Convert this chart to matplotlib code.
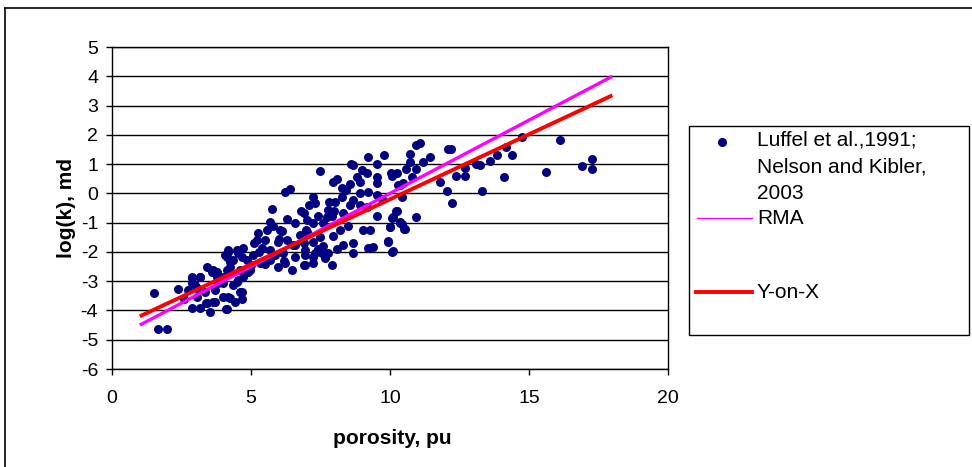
import matplotlib
matplotlib.use("Agg")
import matplotlib.pyplot as plt
from matplotlib.lines import Line2D
from matplotlib.patches import Rectangle

# ---------------- data ----------------
porosity = [
    1.5, 1.65, 1.98, 2.37, 2.88, 2.88, 3.17, 3.53, 3.42, 4.1, 4.17, 4.68, 4.68, 4.5,
    3.42, 3.77, 2.98, 3.05, 3.63, 4.0, 3.17, 2.88, 2.88, 3.17, 3.6, 3.06, 3.35, 3.7,
    3.38, 3.7, 4.14, 4.24, 4.42, 3.81, 3.96, 4.14, 4.06, 4.17, 4.35, 4.53, 4.24, 4.6,
    2.6, 2.75,
    6.22, 6.4, 5.76, 6.3, 5.68, 5.58, 6.04, 5.25, 5.22, 5.5, 5.97, 6.3, 6.76, 7.01,
    6.51, 6.94, 6.58, 6.94, 6.47, 6.22, 5.97, 5.68, 5.32, 4.86, 4.96, 4.6, 4.24, 4.14,
    4.17, 4.5, 4.71, 4.68, 5.07, 5.86, 6.15, 5.68, 5.4, 7.23, 4.71, 4.53, 3.78, 3.63,
    4.0, 4.35, 5.1, 5.3, 5.0, 4.9, 5.5, 5.8, 6.1, 6.6, 6.8, 7.1,
    9.2, 9.53, 8.6, 8.67, 7.48, 9.17, 9.53, 9.53, 10.04, 8.09, 7.95, 8.27, 8.56, 8.92,
    9.2, 8.92, 9.53, 10.36, 7.23, 7.3, 8.27, 8.02, 8.67, 8.56, 8.92, 9.17, 6.9, 7.77,
    7.91, 7.73, 7.41, 7.23, 7.59, 8.31, 9.53, 10.25, 10.07, 10.36, 10.0, 8.2, 9.03,
    9.28, 6.98, 7.48, 7.95, 8.31, 8.67, 8.67, 9.2, 9.39, 9.93, 10.07, 6.9, 7.23, 7.3,
    6.94, 7.55, 7.77, 7.66, 7.91, 6.9, 7.23, 7.4, 6.6, 6.2, 6.0, 7.0, 7.6, 8.0, 8.4,
    8.8, 9.0, 9.7, 8.1, 7.8, 8.5,
    9.78, 10.72, 10.72, 10.94, 10.8, 10.58, 10.25, 10.07, 10.47, 10.29, 10.43, 10.22,
    10.1, 10.36, 10.0, 10.5, 9.93, 10.1, 10.43, 10.54, 10.94, 11.08, 10.94, 11.2,
    11.44, 11.8, 12.05, 12.24, 12.1, 12.2, 12.37, 12.7, 12.7, 13.1, 13.24, 13.3,
    13.6, 13.85, 14.1, 14.17, 14.4, 14.75, 15.6, 16.1, 16.9, 17.27, 17.27,
]
logk = [
    -3.4, -4.65, -4.65, -3.28, -2.9, -3.9, -3.93, -4.06, -3.75, -3.96, -3.55, -3.38, -3.62, -3.04,
    -2.5, -2.7, -3.14, -3.55, -3.72, -3.55, -2.87, -2.87, -3.07, -2.87, -2.7, -3.24, -3.38, -3.31,
    -3.75, -3.72, -3.96, -3.58, -3.72, -3.07, -2.87, -2.63, -2.12, -1.95, -2.29, -2.05, -2.36, -3.38,
    -3.6, -3.3,
    0.03, 0.14, -0.55, -0.89, -0.99, -1.26, -1.26, -1.37, -1.6, -1.6, -1.67, -1.6, -1.43, -1.33,
    -1.77, -1.95, -2.18, -2.46, -2.63, -2.39, -2.53, -2.29, -2.39, -2.29, -2.63, -2.63, -2.53, -2.18,
    -2.01, -1.95, -1.88, -2.18, -2.12, -2.12, -2.05, -1.95, -1.88, -2.18, -2.87, -2.97, -2.87, -2.63,
    -3.07, -3.14, -1.7, -2.0, -2.45, -2.7, -2.4, -1.1, -1.3, -1.0, -0.6, -0.4,
    1.23, 1.02, 1.02, 0.96, 0.75, 0.68, 0.55, 0.34, 0.68, 0.48, 0.38, 0.2, 0.31, 0.38,
    0.03, 0.0, -0.07, 0.27, -0.14, -0.34, -0.14, -0.31, -0.24, -0.41, -0.41, -0.48, -0.68, -0.58,
    -0.78, -0.82, -0.78, -1.02, -1.02, -0.68, -0.78, -0.61, -0.85, -1.02, -1.16, -1.26, -1.26,
    -1.26, -1.26, -1.5, -1.47, -1.77, -1.71, -2.05, -1.88, -1.84, -1.67, -2.01, -1.71, -1.67, -2.05,
    -2.12, -2.05, -2.05, -2.22, -2.46, -2.46, -2.39, -1.9, -1.75, -2.3, -1.55, -0.9, -1.8, -0.6, 0.1,
    0.55, 0.8, -0.2, -1.9, -0.3, -1.1,
    1.3, 1.36, 1.06, 0.82, 0.55, 0.82, 0.68, 0.61, 0.34, 0.27, -0.14, -0.61,
    -0.82, -0.99, -1.16, -1.23, -1.64, -1.98, -1.06, -1.23, -0.82, 1.71, 1.64, 1.06,
    1.23, 0.38, 0.07, -0.34, 1.5, 1.5, 0.61, 0.85, 0.61, 1.02, 0.96, 0.07,
    1.09, 1.3, 0.55, 1.57, 1.3, 1.92, 0.72, 1.84, 0.95, 1.16, 0.82,
]
line_x = [1, 18]
rma_y = [-4.5, 4.0]
yonx_y = [-4.2, 3.35]
x_ticks = [0, 5, 10, 15, 20]
y_ticks = [5, 4, 3, 2, 1, 0, -1, -2, -3, -4, -5, -6]
series_label = "Luffel et al.,1991;\nNelson and Kibler,\n2003"
rma_label = "RMA"
yonx_label = "Y-on-X"

# ---------------- figure ----------------
W, H = 972, 467
plt.rcParams['axes.unicode_minus'] = False
plt.rcParams['font.family'] = ['Liberation Sans', 'DejaVu Sans']
fig = plt.figure(figsize=(W / 100, H / 100), dpi=100)


def fx(px):
    return px / W


def fy(py):
    return 1 - py / H


# outer chart border
fig.add_artist(Line2D([fx(5), fx(5)], [fy(8), 0], color='black', lw=1.2, transform=fig.transFigure))
fig.add_artist(Line2D([fx(5), 1], [fy(8), fy(8)], color='black', lw=1.2, transform=fig.transFigure))

ax = fig.add_axes([fx(112), fy(369), fx(668) - fx(112), fy(47) - fy(369)])
ax.set_xlim(0, 20)
ax.set_ylim(-6, 5)
ax.set_xticks(x_ticks)
ax.set_yticks(y_ticks)
ax.grid(axis='y', color='black', lw=1.0)
ax.set_axisbelow(True)
for s in ax.spines.values():
    s.set_color('black')
    s.set_linewidth(1.0)
ax.tick_params(axis='both', direction='out', length=4, width=1, labelsize=14, colors='black')
ax.tick_params(axis='x', pad=11)
ax.tick_params(axis='y', pad=6)

ax.scatter(porosity, logk, s=42, color='#000080', zorder=3, linewidths=0)
ax.plot(line_x, rma_y, color='#FF00FF', lw=2.4, zorder=4, solid_capstyle='butt')
ax.plot(line_x, yonx_y, color='#FF0000', lw=2.8, zorder=5, solid_capstyle='butt')

ax.set_xlabel('porosity, pu', fontsize=15, fontweight='bold', va='center')
ax.xaxis.set_label_coords((392 - 112) / 556, -(438 - 369) / 322)
ax.set_ylabel('log(k), md', fontsize=15, fontweight='bold', va='center')
ax.yaxis.set_label_coords(-(112 - 66) / 556, (369 - 208) / 322)

# ---------------- legend (Excel-style box) ----------------
fig.add_artist(Rectangle((fx(689), fy(335)), fx(969) - fx(689), fy(126) - fy(335),
                         transform=fig.transFigure, fill=False, edgecolor='black', lw=1.0))
fig.add_artist(Line2D([fx(722)], [fy(142)], marker='o', markersize=5.5, color='#000080',
                      linestyle='none', transform=fig.transFigure))
fig.text(fx(757), fy(131), series_label, fontsize=15, va='top', ha='left', linespacing=1.5)
fig.add_artist(Line2D([fx(697), fx(752)], [fy(218), fy(218)], color='#FF00FF', lw=1.0,
                      transform=fig.transFigure))
fig.text(fx(757), fy(219), rma_label, fontsize=15, va='center', ha='left')
fig.add_artist(Line2D([fx(696), fx(752)], [fy(292), fy(292)], color='#FF0000', lw=2.8,
                      transform=fig.transFigure))
fig.text(fx(757), fy(292), yonx_label, fontsize=15, va='center', ha='left')

fig.savefig('out.png', dpi=100)
